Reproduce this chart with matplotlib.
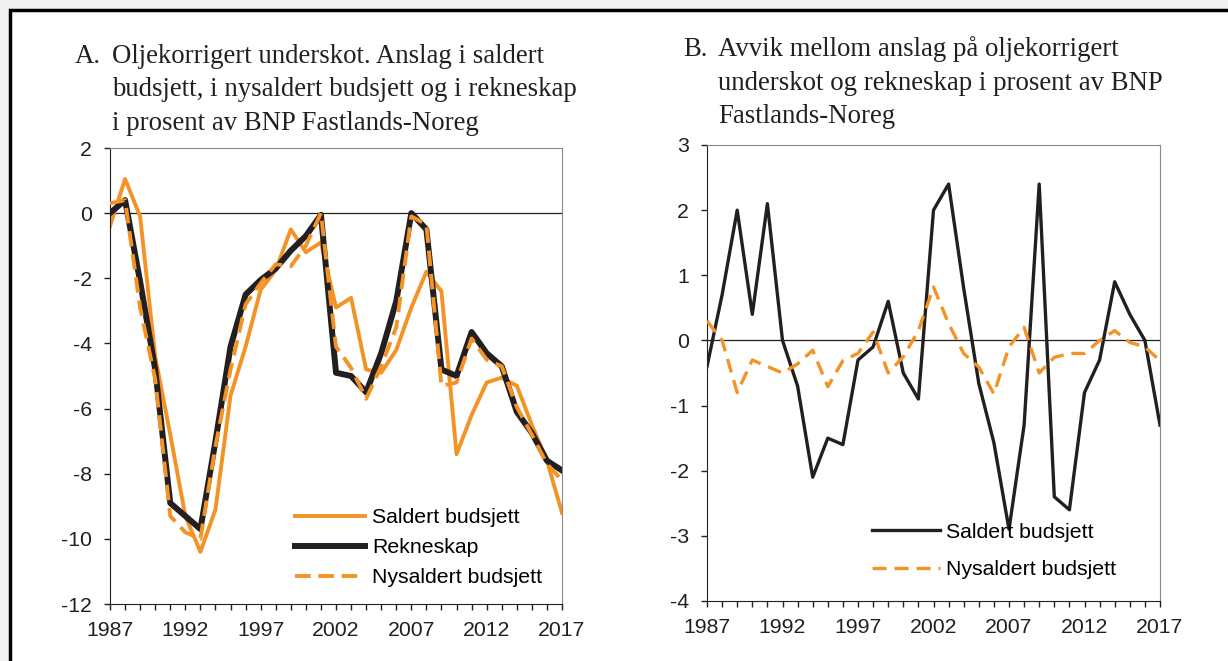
import numpy as np
import matplotlib.pyplot as plt
from matplotlib.patches import Rectangle

plt.rcParams["axes.unicode_minus"] = False
plt.rcParams["font.family"] = "Liberation Sans"

years = list(range(1987, 2018))

# panel A: oil-corrected deficit, % of mainland GDP
saldert = [-0.4, 1.05, -0.1, -4.4, -6.8, -9.3, -10.4, -9.1, -5.6, -4.1,
           -2.35, -1.75, -0.5, -1.2, -0.9, -2.9, -2.6, -4.8, -4.9, -4.2,
           -2.9, -1.8, -2.4, -7.4, -6.2, -5.2, -5.05, -5.3, -6.5, -7.6, -9.2]
rekneskap = [0.0, 0.4, -2.1, -4.8, -8.9, -9.3, -9.7, -7.0, -4.1, -2.5,
             -2.05, -1.7, -1.15, -0.7, -0.05, -4.9, -5.0, -5.5, -4.3, -2.7,
             0.0, -0.5, -4.8, -5.0, -3.65, -4.3, -4.7, -6.1, -6.75, -7.6, -7.9]
nysaldert = [0.3, 0.4, -2.9, -5.1, -9.3, -9.8, -10.0, -7.15, -4.8, -2.8,
             -2.15, -1.57, -1.63, -1.0, 0.0, -4.1, -4.75, -5.7, -4.7, -3.5,
             -0.1, -0.35, -5.3, -5.2, -3.85, -4.5, -4.7, -5.95, -6.8, -7.7, -8.2]

# panel B: deviation from accounts
avvik_saldert = [-0.4, 0.7, 2.0, 0.4, 2.1, 0.0, -0.7, -2.1, -1.5, -1.6,
                 -0.3, -0.1, 0.6, -0.5, -0.9, 2.0, 2.4, 0.8, -0.66, -1.57,
                 -2.9, -1.3, 2.4, -2.4, -2.6, -0.8, -0.3, 0.9, 0.4, 0.0, -1.3]
avvik_nysaldert = [0.3, 0.0, -0.8, -0.3, -0.4, -0.5, -0.36, -0.15, -0.71, -0.31,
                   -0.2, 0.13, -0.5, -0.25, 0.15, 0.82, 0.26, -0.2, -0.41, -0.82,
                   -0.1, 0.2, -0.5, -0.26, -0.2, -0.2, 0.0, 0.15, -0.03, -0.1, -0.31]

orange = "#F39325"
black = "#231F20"
grey = "#8a8a8a"
fs_tick = 15.3

fig = plt.figure(figsize=(12.28, 6.61), dpi=100, facecolor="#f0f0f0")
fig.patches.append(Rectangle((10 / 1228, -0.1), 1.2, 1 - 10 / 661 + 0.1,
                             transform=fig.transFigure, facecolor="white",
                             edgecolor="black", linewidth=2.5, zorder=-5))

axA = fig.add_axes([110 / 1228, 57 / 661, 452 / 1228, 456 / 661])
axB = fig.add_axes([707 / 1228, 60 / 661, 453 / 1228, 456 / 661])


def style(ax, ylim, yticks):
    ax.set_xlim(1987, 2017)
    ax.set_ylim(*ylim)
    ax.set_yticks(yticks)
    ax.set_xticks(years)
    ax.set_xticklabels([str(y) if (y - 1987) % 5 == 0 else "" for y in years])
    ax.tick_params(direction="out", length=4.3, width=1, colors=black,
                   labelsize=fs_tick)
    ax.tick_params(axis="y", pad=8.5)
    ax.tick_params(axis="x", pad=8)
    for s in ["left", "bottom"]:
        ax.spines[s].set_color(black)
    for s in ["top", "right"]:
        ax.spines[s].set_color(grey)
    ax.axhline(0, color=black, lw=0.9, zorder=1)
    ax.set_facecolor("white")


style(axA, (-12, 2), range(-12, 3, 2))
axA.plot(years, saldert, color=orange, lw=2.8, label="Saldert budsjett", zorder=2)
axA.plot(years, rekneskap, color=black, lw=4.3, label="Rekneskap", zorder=3)
axA.plot(years, nysaldert, color=orange, lw=2.8, ls=(0, (4, 2)),
         label="Nysaldert budsjett", zorder=4)
axA.legend(loc="lower left", bbox_to_anchor=(0.409, 0.037), frameon=False,
           fontsize=fs_tick, handlelength=3.3, handletextpad=0.33, labelspacing=0.52,
           borderpad=0, borderaxespad=0)

style(axB, (-4, 3), range(-4, 4))
axB.plot(years, avvik_saldert, color=black, lw=2.4, label="Saldert budsjett", zorder=3)
axB.plot(years, avvik_nysaldert, color=orange, lw=2.4, ls=(0, (4.2, 2.4)),
         label="Nysaldert budsjett", zorder=4)
axB.legend(loc="lower left", bbox_to_anchor=(0.364, 0.048), frameon=False,
           fontsize=fs_tick, handlelength=3.2, handletextpad=0.28, labelspacing=0.87,
           borderpad=0, borderaxespad=0)

serif = "Liberation Serif"
fs = 19.3
titleA = ["Oljekorrigert underskot. Anslag i saldert",
          "budsjett, i nysaldert budsjett og i rekneskap",
          "i prosent av BNP Fastlands-Noreg"]
titleB = ["Avvik mellom anslag på oljekorrigert",
          "underskot og rekneskap i prosent av BNP",
          "Fastlands-Noreg"]
fig.text(75 / 1228, 1 - 63 / 661, "A.", family=serif, fontsize=fs,
         va="baseline", color=black)
for i, line in enumerate(titleA):
    fig.text(112 / 1228, 1 - (63 + 33.5 * i) / 661, line, family=serif,
             fontsize=fs, va="baseline", color=black)
fig.text(683 / 1228, 1 - 56 / 661, "B.", family=serif, fontsize=fs,
         va="baseline", color=black)
for i, line in enumerate(titleB):
    fig.text(718 / 1228, 1 - (56 + 33.5 * i) / 661, line, family=serif,
             fontsize=fs, va="baseline", color=black)

fig.savefig("out.png", dpi=100, facecolor=fig.get_facecolor())
